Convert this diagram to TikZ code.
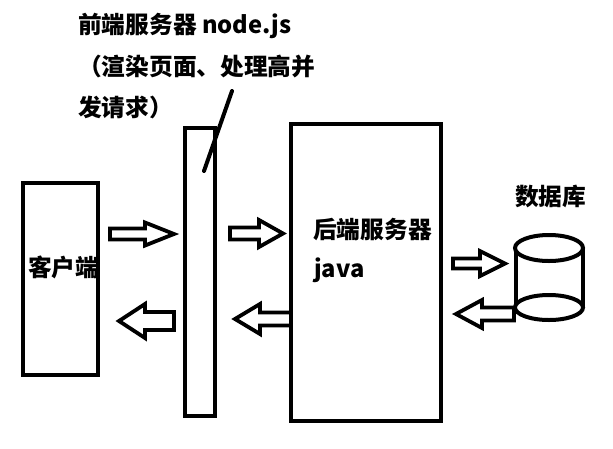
\documentclass[tikz,border=0pt]{standalone}
\usepackage{fontspec}
\newfontfamily\cjk{Noto Sans CJK SC}
\tikzset{
  box/.style={draw, line width=4pt, minimum width=#1, inner sep=0pt},
  txt/.style={inner sep=0pt, anchor=base west, font=\cjk\bfseries\fontsize{23.7}{27}\selectfont},
  blk/.style={draw, line width=3.8pt, line join=miter, fill=white},
  dbline/.style={draw, line width=4pt},
}
% right block arrow: tail, base, tip, cy, shaft half, head half
\newcommand\RArr[6]{\draw[blk] (#1,#4-#5) -- (#2,#4-#5) -- (#2,#4-#6) -- (#3,#4) -- (#2,#4+#6) -- (#2,#4+#5) -- (#1,#4+#5) -- cycle;}
\begin{document}
\begin{tikzpicture}[x=1pt,y=-1pt]
\useasboundingbox (0,0) rectangle (613,448);
% boxes
\node[box=75pt, minimum height=192pt] (client) at (60.5,279) {};
\node[box=30pt, minimum height=288pt] (front) at (200,272) {};
\node[box=150pt, minimum height=297pt] (back) at (366,272.5) {};
% texts
\node[txt] (t1) at (78,33.5) {前端服务器 node.js};
\node[txt] (t2) at (78,75.5) {（渲染页面、处理高并};
\node[txt] (t3) at (78,116) {发请求）};
\node[txt] (tc) at (28,276) {客户端};
\node[txt] (tb) at (313,238.5) {后端服务器};
\node[txt] (tj) at (314,277) {java};
\node[txt] (td) at (515,205.5) {数据库};
% label line
\coordinate (la) at (232,91);
\coordinate (lb) at (204,171);
\draw[line width=4pt, line cap=round] (la) -- (lb);
% block arrows
\RArr{110}{145}{174}{234}{5.5}{11.5}
\RArr{174}{145}{119}{321}{9}{17}
\RArr{230}{259}{283}{233.5}{6}{13.5}
\RArr{291}{260}{235}{319}{6.5}{15}
\RArr{453}{480}{505}{263.5}{5}{12.5}
\RArr{514}{482}{456}{314}{6.5}{14}
% database cylinder
\coordinate (dbt) at (549,248);
\coordinate (dbb) at (549,307.5);
\draw[dbline] ([xshift=-33.5pt]dbt) -- ([xshift=-33.5pt]dbb);
\draw[dbline] ([xshift=34pt]dbt) -- ([xshift=34pt]dbb);
\draw[dbline, fill=white] (dbb) ellipse [x radius=34, y radius=12.5];
\draw[dbline, fill=white] (dbt) ellipse [x radius=34, y radius=13];
\end{tikzpicture}
\end{document}
